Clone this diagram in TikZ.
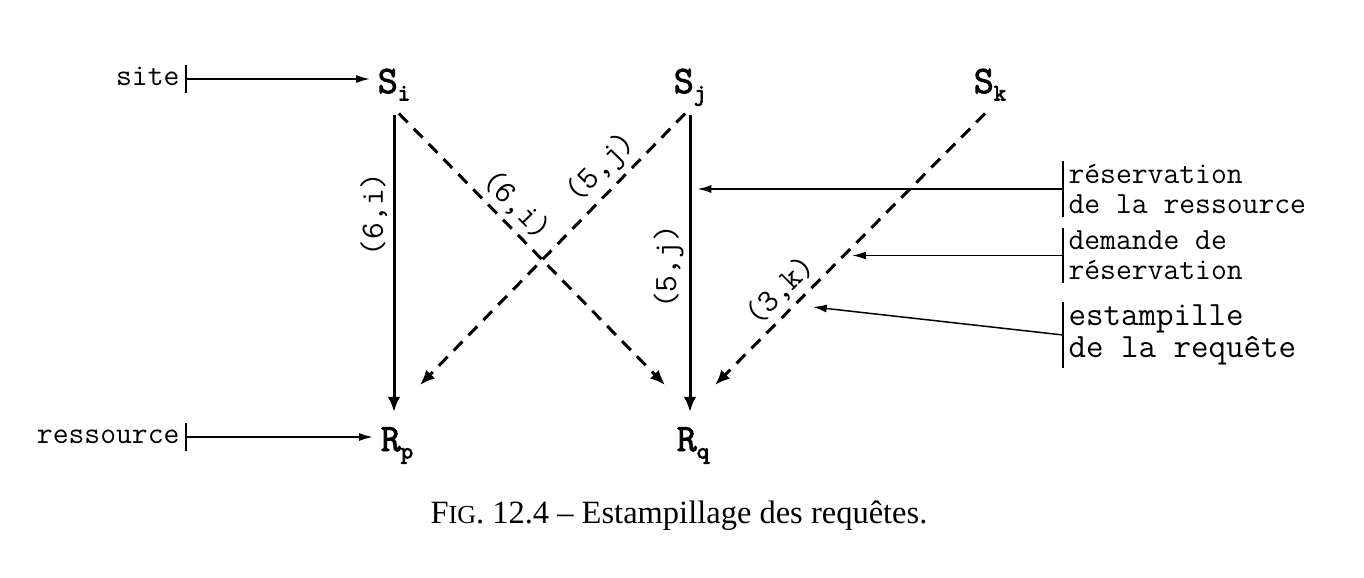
\documentclass[tikz,border=0pt]{standalone}
\usepackage{fontspec}
\newfontfamily\capfont{Liberation Serif}[Ligatures=TeX]
\newfontfamily\sitefont{Latin Modern Mono}[FakeBold=2.5]
\usetikzlibrary{arrows.meta,positioning}

\newcommand\sitename[2]{{\sitefont\fontsize{15.5}{15.5}\selectfont #1\raisebox{-3pt}{\fontsize{9.5}{9.5}\selectfont #2}}}

\tikzset{
  lbl/.style={font=\ttfamily\fontsize{12.3}{12}\selectfont},
  sitenode/.style={lbl,inner xsep=3pt,inner ysep=3pt,text height=9.4pt,text depth=3pt},
  side/.style={lbl,inner sep=2pt,text height=1.5ex,text depth=.25ex},
  tag/.style={lbl,align=left,anchor=west,inner xsep=2pt,inner ysep=1pt},
  stamp/.style={font=\ttfamily\fontsize{13}{13}\selectfont,inner sep=2pt},
  msg/.style={line width=1.2pt,-{Latex[length=6pt,width=5pt]},shorten <=2.8pt},
  req/.style={msg,dash pattern=on 5pt off 3.5pt},
  note/.style={line width=0.6pt,-{Latex[length=5.5pt,width=3.2pt]}},
  barnote/.style={line width=0.6pt,{Bar[width=11pt]}-{Latex[length=5.5pt,width=3.2pt]}},
}

\begin{document}
\begin{tikzpicture}[x=0.4pt,y=-0.4pt]
\useasboundingbox (0,0) rectangle (1364,578);

% sites et ressources
\node[sitenode] (si) at (394,85) {\sitename{S}{i}};
\node[sitenode] (sj) at (690,85) {\sitename{S}{j}};
\node[sitenode] (sk) at (990,85) {\sitename{S}{k}};
\node[sitenode] (rp) at (397,443) {\sitename{R}{p}};
\node[sitenode] (rq) at (693,443) {\sitename{R}{q}};
\coordinate (tp) at (420,385);
\coordinate (tq) at (665,385);
\coordinate (tk) at (715,385);

% reservations (traits pleins)
\draw[msg,shorten >=3pt] (si.south) -- node[stamp,pos=0.34,rotate=90,above] {(6,i)} (si.south |- rp.north);
\draw[msg,shorten >=3pt] (sj.south) -- node[stamp,pos=0.51,rotate=90,above] {(5,j)} (sj.south |- rq.north);

% demandes (tirets)
\draw[req] (si.south) -- node[stamp,pos=0.40,sloped,above] {(6,i)} (tq);
\draw[req] (sj.south) -- node[stamp,pos=0.27,sloped,above] {(5,j)} (tp);
\draw[req] (sk.south) -- node[stamp,pos=0.71,sloped,above] (lk) {(3,k)}
  coordinate[pos=0.532] (kdem) (tk);
\coordinate (kstamp) at (813,307);

% legende gauche
\node[side,anchor=east] (site) at (185,79) {site};
\node[side,anchor=east] (res) at (185,437) {ressource};
\draw[barnote] (site.east) -- (site.east -| si.west);
\draw[barnote] (res.east) -- (res.east -| rp.west);

% legende droite
\node[tag] (resa) at (1063,189) {réservation\\de la ressource};
\node[tag] (dem) at (1063,255.5) {demande de\\réservation};
\node[tag,font=\ttfamily\fontsize{13.6}{12.5}\selectfont] (est) at (1063,335) {estampille\\de la requête};
\foreach \n in {resa,dem,est}
  \draw[line width=0.6pt] (\n.north west) -- (\n.south west);
\draw[note,shorten >=3pt] (resa.west) -- (resa.west -| sj.south);
\draw[note,shorten >=3.4pt] (dem.west) -- (dem.west -| kdem);
\draw[note] (est.west) -- (kstamp);

% titre
\node[font=\capfont\fontsize{13}{15}\selectfont] (cap) at (679,516)
  {F{\fontsize{10.4}{12}\selectfont IG}. 12.4 -- Estampillage des requêtes.};
\end{tikzpicture}
\end{document}
